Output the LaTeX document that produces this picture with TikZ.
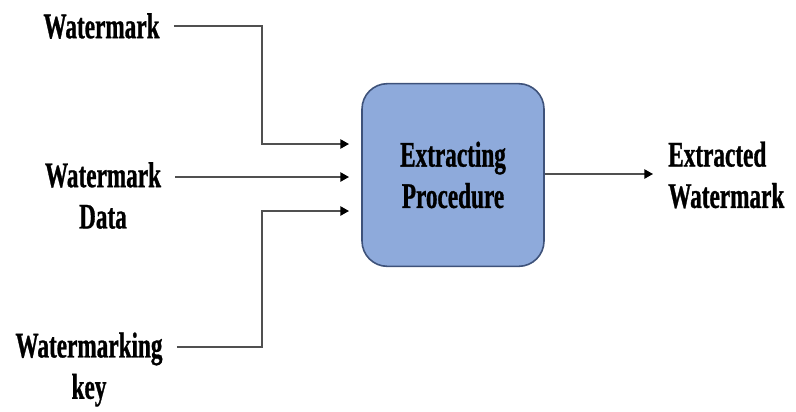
\documentclass[tikz,border=0pt]{standalone}
\usepackage{fontspec}
\setmainfont[FakeStretch=0.645, BoldFeatures={FakeBold=0.8}]{Liberation Serif}
\usetikzlibrary{arrows.meta}
\definecolor{procfill}{RGB}{142,170,219}
\definecolor{procline}{RGB}{62,82,122}
\definecolor{wire}{RGB}{80,80,80}

\begin{document}
\begin{tikzpicture}[x=0.75pt, y=-0.75pt,
    every node/.style={font=\bfseries\fontsize{27}{31}\selectfont, align=center},
    label/.style={inner sep=0pt},
    feed/.style={draw=wire, line width=1.1pt, shorten <=10.5pt, -{Triangle[length=6.5pt,width=7pt,color=black]}}]
    \useasboundingbox (0,0) rectangle (796,411);

    % Nodes
    \node[draw=procline, line width=1.2pt, fill=procfill, rounded corners=19pt,
          minimum width=136.5pt, minimum height=137pt] (proc) at (453,175) {Extracting\\Procedure};
    \node[label] (mark) at (101.5,26) {Watermark};
    \node[label] (data) at (103,195.5) {Watermark\\Data};
    \node[label] (key) at (89,369.5) {Watermarking\\key};
    \node[label, align=left, anchor=west] (out) at (668,175) {Extracted\\Watermark};

    \coordinate (bendA) at (262,144);
    \coordinate (bendC) at (262,347);
    \coordinate (tipA) at (349,144);
    \coordinate (tipB) at (349,177);
    \coordinate (tipC) at (349,211);
    \coordinate (tipD) at (653,174);

    % Edges
    \draw[feed] (mark.east) -| (bendA) -- (tipA);
    \draw[feed] (data.east |- tipB) -- (tipB);
    \draw[feed] (key.east |- bendC) -- (bendC) |- (tipC);
    \draw[feed, shorten <=0pt] (proc.east |- tipD) -- (tipD);
\end{tikzpicture}
\end{document}
